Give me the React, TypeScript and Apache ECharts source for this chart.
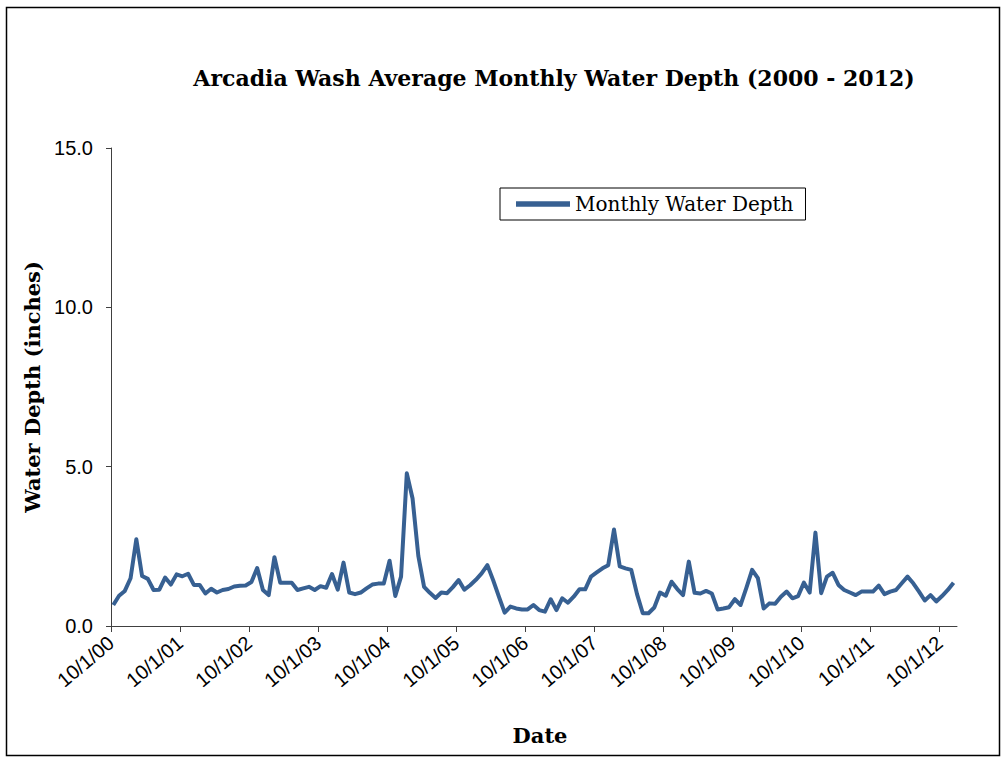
import React, { useEffect, useRef } from 'react';
import * as echarts from 'echarts';

// Monthly average water depth (inches), Oct 2000 .. Dec 2012
const depthValues: number[] = [
  0.66, 0.95, 1.1, 1.5, 2.72, 1.57, 1.48, 1.13, 1.14, 1.52, 1.3, 1.62,
  1.56, 1.64, 1.29, 1.29, 1.02, 1.17, 1.05, 1.13, 1.16, 1.24, 1.26, 1.27,
  1.38, 1.82, 1.13, 0.97, 2.16, 1.36, 1.36, 1.36, 1.13, 1.18, 1.23, 1.13,
  1.25, 1.2, 1.63, 1.14, 1.99, 1.05, 1.0, 1.05, 1.18, 1.3, 1.33, 1.33,
  2.05, 0.94, 1.55, 4.79, 4.0, 2.2, 1.23, 1.04, 0.88, 1.05, 1.03, 1.22,
  1.44, 1.14, 1.28, 1.45, 1.65, 1.91, 1.44, 0.92, 0.42, 0.61, 0.55, 0.52,
  0.52, 0.66, 0.5, 0.45, 0.84, 0.5, 0.87, 0.73, 0.92, 1.15, 1.15, 1.55,
  1.68, 1.81, 1.91, 3.03, 1.87, 1.81, 1.76, 1.0, 0.4, 0.4, 0.58, 1.05,
  0.95, 1.39, 1.16, 0.97, 2.02, 1.04, 1.02, 1.1, 1.02, 0.52, 0.55, 0.59,
  0.84, 0.66, 1.2, 1.76, 1.5, 0.55, 0.71, 0.7, 0.92, 1.08, 0.87, 0.94,
  1.36, 1.05, 2.93, 1.03, 1.55, 1.67, 1.29, 1.13, 1.05, 0.97, 1.08, 1.08,
  1.08, 1.27, 1.0, 1.08, 1.13, 1.34, 1.55, 1.34, 1.08, 0.8, 0.97, 0.77,
  0.94, 1.13, 1.36,
];

// x-axis: months since 10/1/00; ticks every 12 months
const xTickMonths = [0, 12, 24, 36, 48, 60, 72, 84, 96, 108, 120, 132, 144];
const xTickLabels = [
  '10/1/00', '10/1/01', '10/1/02', '10/1/03', '10/1/04', '10/1/05', '10/1/06',
  '10/1/07', '10/1/08', '10/1/09', '10/1/10', '10/1/11', '10/1/12',
];
const xAxisEndMonth = 147; // 1/1/13
const dataMonthOffset = 0.4; // values sit mid-month

const yTicks = [0, 5, 10, 15];
const yTickLabels = ['0.0', '5.0', '10.0', '15.0'];

const titleText = 'Arcadia Wash Average Monthly Water Depth (2000 - 2012)';
const seriesName = 'Monthly Water Depth';

export default function App() {
  const ref = useRef<HTMLDivElement>(null);
  useEffect(() => {
    document.body.style.margin = '0';
    const chart = echarts.init(ref.current as HTMLDivElement, null, { renderer: 'svg' });
    const data = depthValues.map((v, i) => [i + dataMonthOffset, v]);
    chart.setOption({
      animation: false,
      backgroundColor: '#ffffff',
      grid: { left: 111, top: 148, right: 48, bottom: 133, containLabel: false },
      graphic: [
        {
          type: 'rect',
          shape: { x: 6.5, y: 7.5, width: 993, height: 748 },
          style: { fill: 'none', stroke: '#000', lineWidth: 1.5 },
          silent: true,
        },
        {
          type: 'text',
          x: 554,
          y: 78,
          style: {
            text: titleText,
            textAlign: 'center',
            textVerticalAlign: 'middle',
            fontFamily: 'DejaVu Serif',
            fontWeight: 'bold',
            fontSize: 22,
            fill: '#000',
          },
        },
      ],
      legend: {
        left: 500,
        top: 188,
        orient: 'horizontal',
        padding: [6, 12, 6, 16],
        borderColor: '#000',
        borderWidth: 1,
        backgroundColor: '#fff',
        itemWidth: 54,
        itemHeight: 12,
        itemGap: 6,
        textStyle: { fontFamily: 'DejaVu Serif', fontSize: 20, color: '#000' },
        data: [{ name: seriesName, icon: 'path://M0,0 L10,0 L10,1 L0,1 Z' }],
      },
      xAxis: {
        type: 'value',
        min: 0,
        max: xAxisEndMonth,
        name: 'Date',
        nameLocation: 'middle',
        nameGap: 99,
        nameTextStyle: {
          fontFamily: 'DejaVu Serif', fontWeight: 'bold', fontSize: 21, color: '#000',
          padding: [0, 0, 0, 12],
        },
        axisLine: { show: true, lineStyle: { color: '#404040', width: 1 } },
        axisTick: { show: true, length: 6, customValues: xTickMonths, lineStyle: { color: '#404040' } },
        axisLabel: {
          customValues: xTickMonths,
          rotate: 40,
          margin: 14,
          fontFamily: 'Liberation Sans',
          fontSize: 20,
          color: '#000',
          formatter: (v: number) => xTickLabels[Math.round(v / 12)] ?? '',
        },
        splitLine: { show: false },
      },
      yAxis: {
        type: 'value',
        min: 0,
        max: 15,
        interval: 5,
        name: 'Water Depth (inches)',
        nameLocation: 'middle',
        nameGap: 62,
        nameTextStyle: { fontFamily: 'DejaVu Serif', fontWeight: 'bold', fontSize: 21, color: '#000' },
        axisLine: { show: true, lineStyle: { color: '#404040', width: 1 } },
        axisTick: { show: true, length: 5, lineStyle: { color: '#404040' } },
        axisLabel: {
          margin: 18,
          fontFamily: 'Liberation Sans',
          fontSize: 20,
          color: '#000',
          formatter: (v: number) => yTickLabels[yTicks.indexOf(v)] ?? '',
        },
        splitLine: { show: false },
      },
      series: [
        {
          name: seriesName,
          type: 'line',
          data,
          symbol: 'none',
          lineStyle: { color: '#376092', width: 4, join: 'round' },
          itemStyle: { color: '#376092' },
        },
      ],
    });
    return () => chart.dispose();
  }, []);
  return <div ref={ref} style={{ width: 1005, height: 759 }} />;
}
